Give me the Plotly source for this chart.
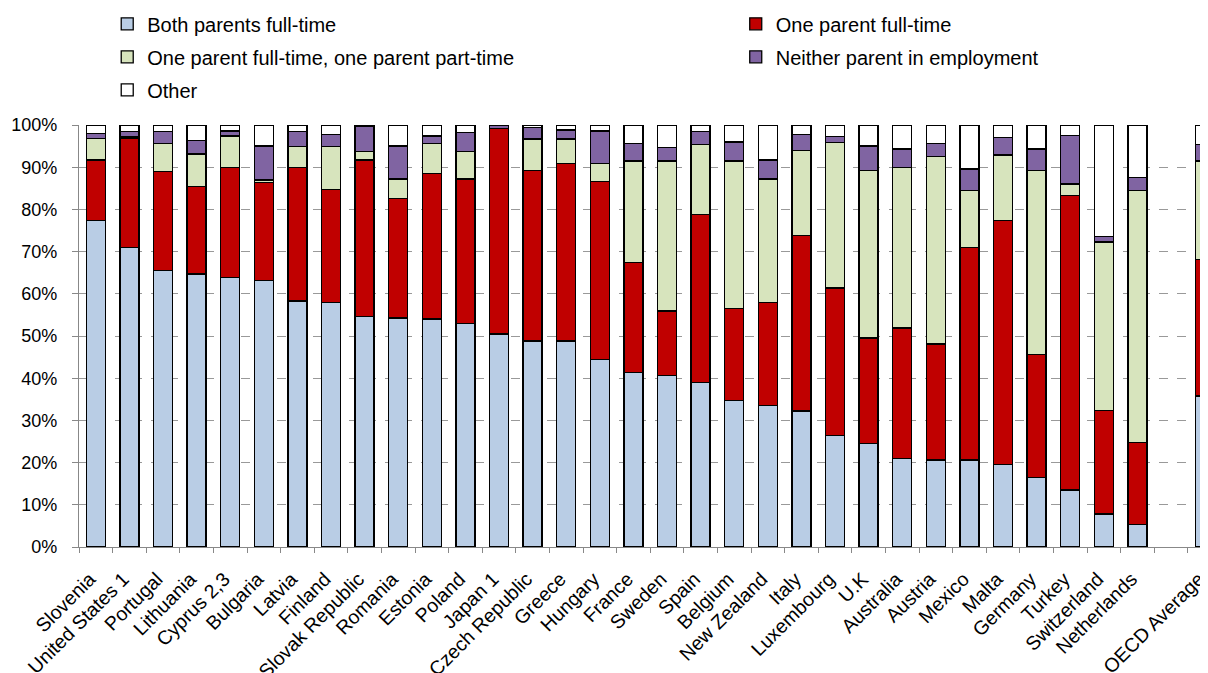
import plotly.graph_objects as go

countries = ["Slovenia", "United States 1", "Portugal", "Lithuania", "Cyprus 2,3", "Bulgaria",
             "Latvia", "Finland", "Slovak Republic", "Romania", "Estonia", "Poland", "Japan 1",
             "Czech Republic", "Greece", "Hungary", "France", "Sweden", "Spain", "Belgium",
             "New Zealand", "Italy", "Luxembourg", "U.K", "Australia", "Austria", "Mexico",
             "Malta", "Germany", "Turkey", "Switzerland", "Netherlands", " ", "OECD Average"]

both_full = [77.3, 71.0, 65.6, 64.7, 63.9, 63.2, 58.3, 57.9, 54.7, 54.3, 54.0, 53.0, 50.5,
             48.8, 48.8, 44.5, 41.3, 40.6, 38.9, 34.7, 33.6, 32.2, 26.5, 24.5, 20.9, 20.6, 20.6,
             19.5, 16.4, 13.5, 7.8, 5.4, None, 35.8]
one_full = [14.4, 25.9, 23.3, 20.7, 26.1, 23.2, 31.7, 26.8, 37.0, 28.3, 34.5, 34.2, 48.6,
            40.5, 42.0, 42.1, 26.2, 15.3, 39.9, 21.8, 24.4, 41.6, 34.9, 25.0, 31.0, 27.5, 50.4,
            57.8, 29.3, 69.8, 24.5, 19.4, None, 32.4]
full_part = [5.1, 0.3, 6.8, 7.7, 7.4, 0.6, 4.9, 10.2, 2.1, 4.6, 7.2, 6.6, 0.0,
             7.4, 5.9, 4.2, 24.0, 35.6, 16.5, 35.0, 29.2, 20.1, 34.5, 39.8, 38.1, 44.4, 13.4,
             15.6, 43.6, 2.7, 40.0, 59.6, None, 23.3]
neither = [1.2, 1.2, 2.7, 3.2, 1.2, 8.0, 3.5, 2.9, 5.8, 7.8, 1.7, 4.4, 0.9,
           2.7, 2.1, 7.8, 4.2, 3.1, 3.1, 4.5, 4.5, 3.9, 1.3, 5.7, 4.3, 3.2, 5.2,
           4.1, 5.0, 11.5, 1.2, 3.2, None, 3.8]
other = [2.0, 1.6, 1.6, 3.7, 1.4, 5.0, 1.6, 2.2, 0.4, 5.0, 2.6, 1.8, 0.0,
         0.6, 1.2, 1.4, 4.3, 5.4, 1.6, 4.0, 8.3, 2.2, 2.8, 5.0, 5.7, 4.3, 10.4,
         3.0, 5.7, 2.5, 26.5, 12.4, None, 4.7]

y_ticks = [0, 10, 20, 30, 40, 50, 60, 70, 80, 90, 100]
y_tick_labels = [f"{v}%" for v in y_ticks]

# (name, values, colour, legend id)
series = [
    ("Both parents full-time", both_full, "#B9CDE5", "legend"),
    ("One parent full-time", one_full, "#C00000", "legend2"),
    ("One parent full-time, one parent part-time", full_part, "#D7E4BD", "legend"),
    ("Neither parent in employment", neither, "#8064A2", "legend2"),
    ("Other", other, "#FFFFFF", "legend"),
]

FONT = "Liberation Sans, Arial, sans-serif"

fig = go.Figure()
for name, vals, col, lg in series:
    fig.add_trace(go.Bar(
        name=name, x=countries, y=vals, legend=lg, legendgroup=name,
        marker=dict(color=col, line=dict(color="#000000", width=1.3)),
        width=0.565,
    ))

legend_common = dict(
    orientation="v", xanchor="left", yanchor="top",
    font=dict(family=FONT, size=20, color="#000000"),
    traceorder="grouped", bgcolor="rgba(0,0,0,0)", tracegroupgap=4,
)

fig.update_layout(
    width=1208, height=673,
    barmode="stack",
    plot_bgcolor="#FFFFFF", paper_bgcolor="#FFFFFF",
    margin=dict(l=71, r=8, t=117, b=134, autoexpand=False),
    font=dict(family=FONT, size=17, color="#000000"),
    showlegend=True,
    legend=dict(x=0.025, y=1.286, **legend_common),
    legend2=dict(x=0.5817, y=1.286, **legend_common),
    xaxis=dict(
        type="category", range=[-0.5, 33.1],
        tickangle=-45, tickson="boundaries", ticks="outside", ticklen=5,
        tickcolor="#888888", showline=True, linecolor="#888888", linewidth=1.3,
        showgrid=False, tickfont=dict(size=19.5), ticklabelshift=-6,
        ticklabelstandoff=12,
    ),
    yaxis=dict(
        range=[0, 100], tickvals=y_ticks, ticktext=y_tick_labels,
        ticks="outside", ticklen=6, tickcolor="#888888",
        showline=True, linecolor="#888888", linewidth=1.3,
        showgrid=True, gridcolor="#999999", griddash="dash", gridwidth=1.2,
        zeroline=False, tickfont=dict(size=18), ticklabelstandoff=11,
    ),
)

fig.write_html("out.html")
